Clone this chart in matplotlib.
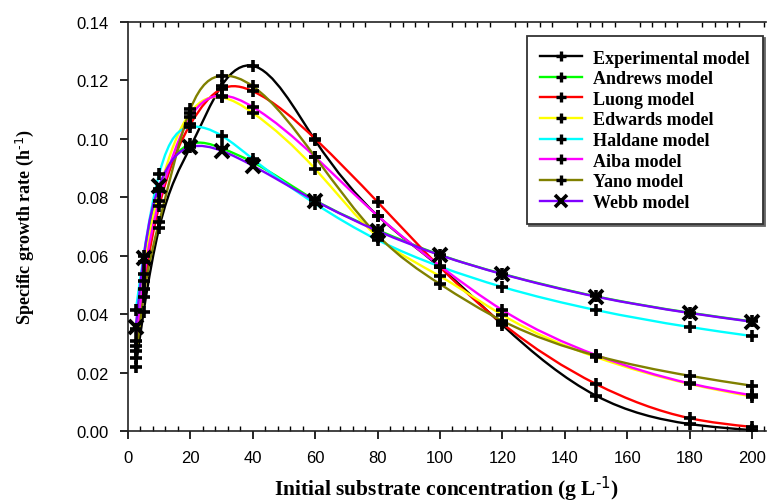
import numpy as np
import matplotlib
matplotlib.use("Agg")
import matplotlib.pyplot as plt
from matplotlib.path import Path
from matplotlib.patches import PathPatch
from matplotlib.lines import Line2D
from matplotlib.ticker import MultipleLocator, FormatStrFormatter

# ---------------- data ----------------
substrate = [2.5, 5, 10, 20, 30, 40, 60, 80, 100, 120, 150, 180, 200]
experimental = [0.0219, 0.0407, 0.0695, 0.0972, 0.1182, 0.1250, 0.0995, 0.0737, 0.0561, 0.0363, 0.0121, 0.0024, 0.0003]
andrews = [0.0350, 0.0580, 0.0830, 0.0982, 0.0968, 0.0920, 0.0790, 0.0688, 0.0603, 0.0538, 0.0461, 0.0405, 0.0375]
luong = [0.0274, 0.0486, 0.0770, 0.1050, 0.1171, 0.1163, 0.1000, 0.0784, 0.0561, 0.0368, 0.0161, 0.0044, 0.0014]
edwards = [0.0309, 0.0537, 0.0820, 0.1090, 0.1142, 0.1089, 0.0897, 0.0665, 0.0530, 0.0397, 0.0253, 0.0161, 0.0118]
haldane = [0.0413, 0.0600, 0.0880, 0.1041, 0.1011, 0.0931, 0.0778, 0.0654, 0.0563, 0.0493, 0.0414, 0.0356, 0.0325]
aiba = [0.0290, 0.0515, 0.0788, 0.1075, 0.1148, 0.1109, 0.0938, 0.0737, 0.0565, 0.0414, 0.0260, 0.0163, 0.0122]
yano = [0.0250, 0.0460, 0.0715, 0.1102, 0.1216, 0.1180, 0.0938, 0.0670, 0.0503, 0.0377, 0.0258, 0.0189, 0.0155]
webb = [0.0356, 0.0592, 0.0839, 0.0972, 0.0959, 0.0908, 0.0788, 0.0685, 0.0602, 0.0537, 0.0460, 0.0404, 0.0374]

labels = ["Experimental model", "Andrews model", "Luong model", "Edwards model",
          "Haldane model", "Aiba model", "Yano model", "Webb model"]
series = [experimental, andrews, luong, edwards, haldane, aiba, yano, webb]
colors = ["#000000", "#00FF00", "#FF0000", "#FFFF00", "#00FFFF", "#FF00FF", "#808000", "#8000FF"]
markers = ["+", "+", "+", "+", "+", "+", "+", "x"]


def spline_path(x, y):
    """Natural cubic spline through the points, expressed as Bezier segments."""
    x = np.asarray(x, float)
    y = np.asarray(y, float)
    n = len(x)
    h = np.diff(x)
    A = np.zeros((n, n))
    r = np.zeros(n)
    A[0, 0] = A[-1, -1] = 1.0
    for i in range(1, n - 1):
        A[i, i - 1] = h[i - 1]
        A[i, i] = 2 * (h[i - 1] + h[i])
        A[i, i + 1] = h[i]
        r[i] = 6 * ((y[i + 1] - y[i]) / h[i] - (y[i] - y[i - 1]) / h[i - 1])
    M = np.linalg.solve(A, r)
    m = np.zeros(n)
    for i in range(n - 1):
        m[i] = (y[i + 1] - y[i]) / h[i] - h[i] * (2 * M[i] + M[i + 1]) / 6
    m[-1] = (y[-1] - y[-2]) / h[-1] + h[-1] * (M[-2] + 2 * M[-1]) / 6
    verts = [(x[0], y[0])]
    codes = [Path.MOVETO]
    for i in range(n - 1):
        verts += [(x[i] + h[i] / 3, y[i] + m[i] * h[i] / 3),
                  (x[i + 1] - h[i] / 3, y[i + 1] - m[i + 1] * h[i] / 3),
                  (x[i + 1], y[i + 1])]
        codes += [Path.CURVE4] * 3
    return Path(verts, codes)


plt.rcParams["font.family"] = ["Liberation Sans", "DejaVu Sans"]
plt.rcParams["mathtext.default"] = "regular"

fig = plt.figure(figsize=(7.71, 5.02), dpi=100)
ax = fig.add_axes([128 / 771, 1 - 432 / 502, 638 / 771, 409 / 502])

for ys, c in zip(series, colors):
    ax.add_patch(PathPatch(spline_path(substrate, ys), fill=False, edgecolor=c,
                           lw=1.7, transform=ax.transData, zorder=2))
for ys, mk in zip(series, markers):
    if mk == "+":
        ax.plot(substrate, ys, ls="none", marker="+", ms=8, mew=2.6, color="k", zorder=3)
    else:
        ax.plot(substrate, ys, ls="none", marker="x", ms=9.5, mew=2.8, color="k", zorder=4)

ax.set_xlim(0, 204.5)
ax.set_ylim(0, 0.14)
ax.xaxis.set_major_locator(MultipleLocator(20))
ax.xaxis.set_minor_locator(MultipleLocator(4))
ax.yaxis.set_major_locator(MultipleLocator(0.02))
ax.yaxis.set_major_formatter(FormatStrFormatter("%.2f"))

ax.spines["right"].set_visible(False)
for s in ["left", "bottom", "top"]:
    ax.spines[s].set_linewidth(1.2)
    ax.spines[s].set_color("#222222")

ax.tick_params(axis="x", which="major", direction="out", length=6, width=1.2,
               top=False, bottom=True, labelsize=12, pad=8)
ax.tick_params(axis="x", which="minor", direction="in", length=3.5, width=1.0,
               top=True, bottom=True)
ax.tick_params(axis="y", which="major", direction="out", length=6, width=1.2,
               labelsize=12, pad=8, right=False)

serif = ["Liberation Serif", "DejaVu Serif"]
ax.set_xlabel(r"Initial substrate concentration (g L$^{\text{-1}}$)", fontsize=15.5,
              fontweight="bold", family=serif, va="center")
ax.xaxis.set_label_coords(0.5, (432 - 489) / 409)
ax.set_ylabel(r"Specific growth rate (h$^{\text{-1}}$)", fontsize=13,
              fontweight="bold", family=serif, va="center")
ax.yaxis.set_label_coords((25 - 128) / 638, 0.5)

handles = []
for c, mk in zip(colors, markers):
    if mk == "+":
        handles.append(Line2D([], [], color=c, lw=1.7, marker="+", ms=7.5, mew=2.4, mec="k"))
    else:
        handles.append(Line2D([], [], color=c, lw=1.7, marker="x", ms=8, mew=2.6, mec="k"))
leg = ax.legend(handles, labels, loc="upper right",
                bbox_to_anchor=((763 - 128) / 638, (432 - 37) / 409),
                prop={"family": serif, "weight": "bold", "size": 13},
                frameon=True, fancybox=False, edgecolor="#333333",
                handlelength=2.3, handletextpad=0.6, labelspacing=0.2,
                borderpad=0.75, borderaxespad=0, numpoints=1,
                shadow={"ox": 1.5, "oy": -1.5, "color": "#666666", "alpha": 1.0})
leg.get_frame().set_linewidth(1.3)

fig.savefig("out.png", dpi=100)
